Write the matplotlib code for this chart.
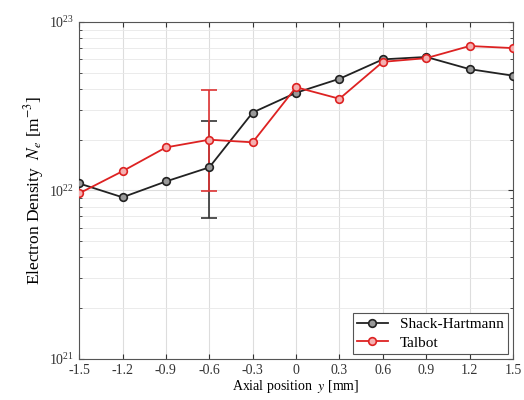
import numpy as np
import matplotlib
matplotlib.use("Agg")
import matplotlib.pyplot as plt
from matplotlib.ticker import LogLocator, NullFormatter

# axial positions (mm)
y_pos = [-1.5, -1.2, -0.9, -0.6, -0.3, 0.0, 0.3, 0.6, 0.9, 1.2, 1.5]

# electron density (m^-3)
shack_hartmann = [1.1e22, 9.1e21, 1.13e22, 1.37e22, 2.9e22, 3.8e22, 4.6e22, 6.0e22, 6.2e22, 5.25e22, 4.8e22]
talbot = [9.6e21, 1.3e22, 1.8e22, 2.0e22, 1.93e22, 4.1e22, 3.5e22, 5.8e22, 6.1e22, 7.2e22, 7.0e22]

# error bar at y = -0.6 mm (lower, upper bounds)
err_x = -0.6
sh_err_low, sh_err_high = 6.9e21, 2.58e22
tb_err_low, tb_err_high = 9.9e21, 3.94e22

plt.rcParams['font.family'] = ['Liberation Serif', 'DejaVu Serif']
plt.rcParams['mathtext.fontset'] = 'stix'

fig = plt.figure(figsize=(5.24, 4.0), dpi=100)
ax = fig.add_axes([0.151, 0.103, 0.828, 0.842])

ax.plot(y_pos, shack_hartmann, '-o', color='#222222', mfc='#999999', mec='#222222',
        ms=5.5, mew=1.2, lw=1.3, label='Shack-Hartmann', zorder=3)
ax.plot(y_pos, talbot, '-o', color='#dd2222', mfc='#f4b0b0', mec='#dd2222',
        ms=5.5, mew=1.2, lw=1.3, label='Talbot', zorder=3)

i = y_pos.index(err_x)
ax.errorbar([err_x], [shack_hartmann[i]],
            yerr=[[shack_hartmann[i] - sh_err_low], [sh_err_high - shack_hartmann[i]]],
            fmt='none', ecolor='#333333', elinewidth=1.2, capsize=6, capthick=1.2, zorder=2)
ax.errorbar([err_x], [talbot[i]],
            yerr=[[talbot[i] - tb_err_low], [tb_err_high - talbot[i]]],
            fmt='none', ecolor='#dd3333', elinewidth=1.2, capsize=6, capthick=1.2, zorder=2)

ax.set_yscale('log')
ax.set_ylim(1e21, 1e23)
ax.set_xlim(-1.5, 1.5)
ax.set_xticks(y_pos)
ax.set_xticklabels(['-1.5', '-1.2', '-0.9', '-0.6', '-0.3', '0', '0.3', '0.6', '0.9', '1.2', '1.5'])
ax.yaxis.set_major_locator(LogLocator(base=10, numticks=5))
ax.yaxis.set_minor_locator(LogLocator(base=10, subs=np.arange(2, 10), numticks=20))
ax.yaxis.set_minor_formatter(NullFormatter())

ax.grid(True, which='major', color='#dddddd', lw=0.8)
ax.grid(True, which='minor', axis='y', color='#e8e8e8', lw=0.6)
ax.set_axisbelow(True)
ax.tick_params(direction='in', which='both', labelsize=10, colors='#333333', top=True, right=True)
for s in ax.spines.values():
    s.set_color('#555555')

ax.set_xlabel('Axial position  $y$ [mm]', fontsize=10, labelpad=1)
ax.set_ylabel('Electron Density  $N_e$ [m$^{-3}$]', fontsize=12.5, labelpad=2)

leg = ax.legend(loc='lower right', fontsize=11, fancybox=False, edgecolor='#555555',
                framealpha=1, borderpad=0.3, handlelength=2.0, labelspacing=0.3,
                borderaxespad=0.3)
leg.get_frame().set_linewidth(0.8)

fig.savefig('out.png', dpi=100)
